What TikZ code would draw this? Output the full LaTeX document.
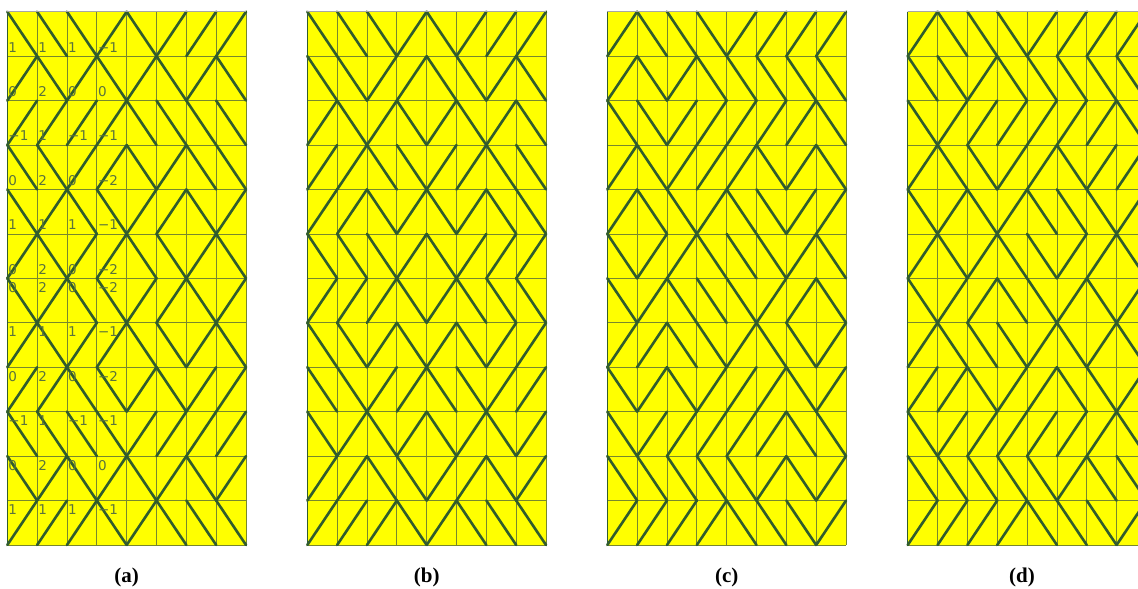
\documentclass[tikz,border=0pt]{standalone}
\usepackage{fontspec}
\setmainfont{Liberation Serif}
\newfontfamily\lblfont{DejaVu Sans}
\definecolor{cellyellow}{RGB}{255,255,0}
\definecolor{gridc}{RGB}{120,135,45}
\definecolor{diagc}{RGB}{48,92,45}
\definecolor{lblc}{RGB}{90,115,60}
\tikzset{
  diag/.style={diagc, line width=2.6pt, line cap=round},
  gridline/.style={gridc, line width=0.8pt},
  lbl/.style={anchor=west, inner sep=0pt, text=lblc, font=\lblfont\fontsize{13.5}{14}\selectfont},
  captext/.style={font=\bfseries\fontsize{21}{24}\selectfont}
}
\newcommand\cw{29.84}
\newcommand\rh{44.44}
\newcommand\drawpanel[2]{%
 \begin{scope}[shift={(#1,11.7)}]
  \fill[cellyellow] (0,0) rectangle (8*\cw,12*\rh);
  \foreach \kk in {0,...,8} \draw[gridline] (\kk*\cw,0) -- (\kk*\cw,12*\rh);
  \foreach \kk in {0,...,12} \draw[gridline] (0,\kk*\rh) -- (8*\cw,\kk*\rh);
  \foreach \rowlist [count=\rr from 0] in {#2} {
    \foreach \vv [count=\cc from 0] in \rowlist {
      \ifnum\vv=1
        \draw[diag] (\cc*\cw,\rr*\rh) -- ++(\cw,\rh);
      \else
        \draw[diag] (\cc*\cw,\rr*\rh+\rh) -- ++(\cw,-\rh);
      \fi
    }
  }
  \draw[gray!70, line width=0.8pt] (0,0) -- (8*\cw,0);
  \draw[diagc, line width=1.2pt] (0,0) -- (0,12*\rh);
 \end{scope}
}
\begin{document}
\begin{tikzpicture}[x=1pt,y=-1pt]
\useasboundingbox (0,0) rectangle (1138,589);
\clip (0,0) rectangle (1138,589);
\fill[white] (0,0) rectangle (1138,589);
% panel a
\drawpanel{7.3}{{1,1,1,0,1,0,0,0},{0,1,0,1,0,1,0,1},{0,0,0,0,1,1,1,1},{1,1,0,0,1,0,1,1},{1,0,1,1,0,0,1,0},{0,1,0,0,1,1,0,1},{1,0,1,1,0,0,1,0},{0,1,0,0,1,1,0,1},{0,0,1,1,0,1,0,0},{1,1,1,1,0,0,0,0},{1,0,1,0,1,0,1,0},{0,0,0,1,0,1,1,1}}
% panel b
\drawpanel{307.3}{{1,1,1,0,1,0,0,0},{1,1,0,0,1,1,0,1},{0,1,0,1,0,1,0,1},{0,0,1,1,0,0,1,1},{0,0,1,0,1,0,1,1},{1,1,1,0,1,0,0,0},{0,0,0,1,0,1,1,1},{1,1,0,1,0,1,0,0},{1,1,0,0,1,1,0,0},{1,0,1,0,1,0,1,0},{0,0,1,1,0,0,1,0},{0,0,0,1,0,1,1,1}}
% panel c
\drawpanel{607.3}{{0,1,1,1,0,0,0,0},{0,1,0,1,1,1,1,1},{1,1,0,0,0,0,0,1},{0,1,0,0,0,1,0,1},{0,1,1,0,1,1,0,0},{1,0,0,1,1,1,0,1},{1,0,1,1,1,0,0,1},{0,0,1,1,0,1,1,0},{1,0,1,0,0,0,1,0},{1,0,0,0,0,0,1,1},{1,1,1,1,1,0,1,0},{0,0,0,0,1,1,1,0}}
% panel d
\drawpanel{907.7}{{0,1,1,1,0,0,0,0},{1,1,0,1,1,1,1,1},{1,0,0,0,0,0,0,1},{0,1,1,0,0,1,0,0},{1,0,1,0,1,1,1,0},{0,1,0,1,1,0,0,1},{1,0,0,1,1,0,1,0},{0,1,1,1,0,1,0,1},{0,0,1,0,0,1,1,0},{1,0,0,0,0,0,0,1},{1,1,1,1,1,0,1,1},{0,0,0,0,1,1,1,0}}
% labels of panel a
\begin{scope}[shift={(7.3,11.7)}]
\foreach \lrow [count=\rr from 0] in {{1,1,1,−1},{0,2,0,0},{−1,1,−1,−1},{0,2,0,−2},{1,1,1,−1},{0,2,0,−2},{0,2,0,−2},{1,1,1,−1},{0,2,0,−2},{−1,1,−1,−1},{0,2,0,0},{1,1,1,−1}} {
  \foreach \lv [count=\cc from 0] in \lrow {
    \ifnum\rr<6
      \node[lbl] (la\rr\cc) at (\cc*\cw+1,\rr*\rh+\rh-9) {\lv};
    \else
      \node[lbl] (la\rr\cc) at (\cc*\cw+1,\rr*\rh+9) {\lv};
    \fi
  }
}
\end{scope}
\node[captext] (capa) at (126.7,577) {(a)};
\node[captext] (capb) at (426.7,577) {(b)};
\node[captext] (capc) at (726.7,577) {(c)};
\node[captext] (capd) at (1022,577) {(d)};
\end{tikzpicture}
\end{document}
